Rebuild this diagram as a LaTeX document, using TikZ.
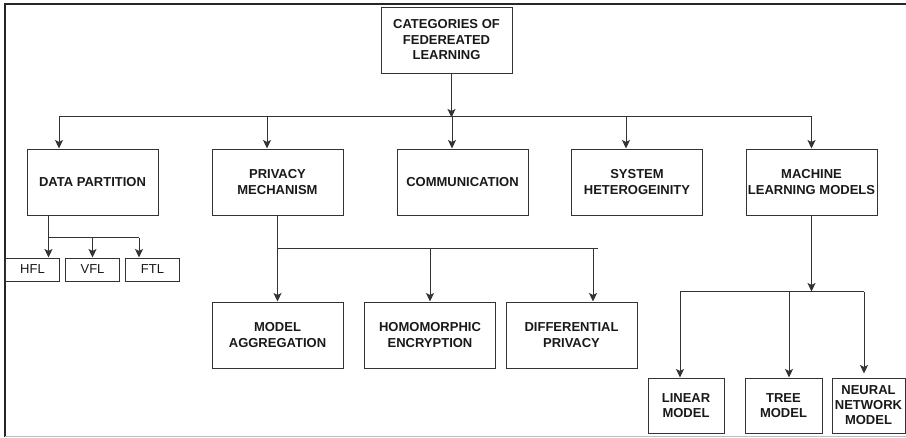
\documentclass[tikz,border=0pt]{standalone}
\usepackage{fontspec}
\setmainfont{Liberation Sans}
\usetikzlibrary{calc}
\usetikzlibrary{positioning}
\usetikzlibrary{arrows.meta}
\tikzstyle{catnode} = [draw, rectangle, minimum width=131pt, minimum height=66pt, align=center, inner sep=1pt, font=\fontsize{13}{15.5}\selectfont\bfseries]
\tikzstyle{leafnode} = [draw, rectangle, minimum width=54pt, minimum height=23pt, inner sep=1pt, font=\fontsize{13}{15}\selectfont]
\tikzstyle{modelnode} = [draw, rectangle, minimum height=55pt, align=center, inner sep=1pt, font=\fontsize{13}{15}\selectfont\bfseries]

\begin{document}
\begin{tikzpicture}[x=1pt, y=-1pt, line width=1pt, draw=black!80, text=black!90,
    >={Stealth[length=8.5pt, width=8pt, inset=2pt]}]
  \useasboundingbox (0,0) rectangle (906,437);
  \draw[line width=2pt, black!85] (906,4) -- (5,4) -- (5,437);
  \draw[line width=1pt, black!25] (5,436) -- (906,436);

  \node[catnode] (root) at (446.5,40) {CATEGORIES OF\\FEDEREATED\\LEARNING};

  \node[catnode] (data) at (92.5,182) {DATA PARTITION};
  \node[catnode, right=53pt of data] (privacy) {PRIVACY\\MECHANISM};
  \node[catnode, right=53pt of privacy] (comm) {COMMUNICATION};
  \node[catnode, right=42.5pt of comm] (system) {SYSTEM\\HETEROGEINITY};
  \node[catnode, right=42.5pt of system] (ml) {MACHINE\\LEARNING MODELS};

  \node[leafnode] (hfl) at (32.5,269.5) {HFL};
  \node[leafnode, right=5pt of hfl] (vfl) {VFL};
  \node[leafnode, right=5pt of vfl] (ftl) {FTL};

  \node[catnode, below=86pt of privacy] (aggr) {MODEL\\AGGREGATION};
  \node[catnode, right=20.5pt of aggr] (homo) {HOMOMORPHIC\\ENCRYPTION};
  \node[catnode, right=9.5pt of homo] (diff) {DIFFERENTIAL\\PRIVACY};

  \node[modelnode, minimum width=76pt] (linear) at (686,405.5) {LINEAR\\MODEL};
  \node[modelnode, minimum width=77pt, right=20pt of linear] (tree) {TREE\\MODEL};
  \node[modelnode, minimum width=73pt, right=9pt of tree] (neural) {NEURAL\\NETWORK\\MODEL};

  % first level
  \coordinate (busL) at ($(data.north)+(-33.5,-32)$);
  \coordinate (busR) at ($(ml.north)+(0,-32)$);
  \draw[->] ($(root.south)+(5,0)$) -- ($(root.south)+(5,44)$);
  \draw (busL) -- (busR);
  \draw[->] (busL) -- (busL |- data.north);
  \draw[->] ($(privacy.north)+(-10.5,-32)$) -- ($(privacy.north)+(-10.5,0)$);
  \draw[->] ($(comm.north)+(-10.5,-32)$) -- ($(comm.north)+(-10.5,0)$);
  \draw[->] ($(system.north)+(-11,-32)$) -- ($(system.north)+(-11,0)$);
  \draw[->] (busR) -- (ml.north);

  % data partition
  \coordinate (dp) at ($(data.south west)+(22,0)$);
  \coordinate (dpbus) at ($(dp)+(0,22)$);
  \coordinate (ftlin) at ($(ftl.north west)+(14,0)$);
  \draw (dp) -- (dpbus) -- (dpbus -| ftlin);
  \draw[->] (dpbus) -- (dpbus |- hfl.north);
  \draw[->] (dpbus -| vfl.north) -- (vfl.north);
  \draw[->] (dpbus -| ftlin) -- (ftlin);

  % privacy mechanism
  \coordinate (pbus) at ($(privacy.south)+(0,33)$);
  \coordinate (diffin) at ($(diff.north)+(21.5,0)$);
  \draw[->] (privacy.south) -- (aggr.north);
  \draw (pbus) -- ($(pbus -| diffin)+(5,0)$);
  \draw[->] (pbus -| homo.north) -- (homo.north);
  \draw[->] (pbus -| diffin) -- (diffin);

  % machine learning models
  \coordinate (mbus) at ($(ml.south)+(0,76)$);
  \coordinate (linin) at ($(linear.north)+(-6,0)$);
  \coordinate (treein) at ($(tree.north)+(5.5,0)$);
  \coordinate (neurin) at ($(neural.north)+(-4.5,-4)$);
  \draw[->] (ml.south) -- (mbus);
  \draw (mbus -| linin) -- (mbus -| neurin);
  \draw[->] (mbus -| linin) -- (linin);
  \draw[->] (mbus -| treein) -- (treein);
  \draw[->] (mbus -| neurin) -- (neurin);
\end{tikzpicture}
\end{document}
